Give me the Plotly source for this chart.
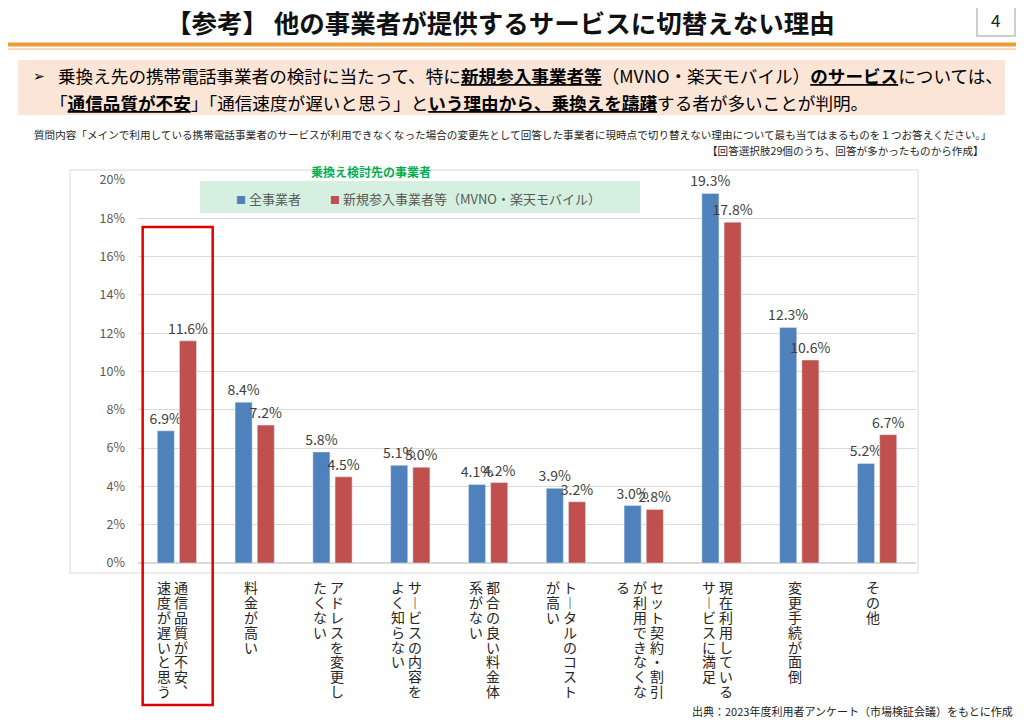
import plotly.graph_objects as go

# ---------------- data ----------------
categories = [
    "通信品質が不安、速度が遅いと思う",
    "料金が高い",
    "アドレスを変更したくない",
    "サービスの内容をよく知らない",
    "都合の良い料金体系がない",
    "トータルのコストが高い",
    "セット契約・割引が利用できなくなる",
    "現在利用しているサービスに満足",
    "変更手続が面倒",
    "その他",
]
series_names = ["全事業者", "新規参入事業者等（MVNO・楽天モバイル）"]
all_operators = [6.9, 8.4, 5.8, 5.1, 4.1, 3.9, 3.0, 19.3, 12.3, 5.2]
new_entrants = [11.6, 7.2, 4.5, 5.0, 4.2, 3.2, 2.8, 17.8, 10.6, 6.7]
y_ticks = [0, 2, 4, 6, 8, 10, 12, 14, 16, 18, 20]
y_tick_labels = [f"{v}%" for v in y_ticks]

title_text = "【参考】 他の事業者が提供するサービスに切替えない理由"
legend_title = "乗換え検討先の事業者"
question_text = ("質問内容「メインで利用している携帯電話事業者のサービスが利用できなくなった場合の変更先として"
                 "回答した事業者に現時点で切り替えない理由について最も当てはまるものを１つお答えください。」")
note_text = "【回答選択肢29個のうち、回答が多かったものから作成】"
source_text = "出典：2023年度利用者アンケート（市場検証会議）をもとに作成"

BLUE = "#4F81BD"
RED = "#C0504D"
JP = "Noto Sans CJK JP"

# ---------------- geometry helpers (reference pixel -> paper) ----------------
OFF = 8                     # page body margin
W, H = 1024 - OFF, 722 - OFF
PL, PR, PT, PB = 138 - OFF, 916 - OFF, 180 - OFF, 563 - OFF


def px(x):
    return (x - OFF - PL) / (PR - PL)


def py(y):
    return (PB - (y - OFF)) / (PB - PT)


fig = go.Figure()
for vals, name, color in [(all_operators, series_names[0], BLUE), (new_entrants, series_names[1], RED)]:
    fig.add_trace(go.Bar(
        x=categories, y=vals, name=name, marker_color=color,
        text=vals, texttemplate="%{y:.1f}%", textposition="outside",
        textangle=0, constraintext="none", cliponaxis=False,
        textfont=dict(size=14, color="#404040", family=JP),
    ))

annotations = []
shapes = []

# vertical (tategaki) category labels
VERT = {"ー": "︱", "、": "︑"}
COL_LEN = 8
PITCH = 14.8
COL_GAP = 17
for cat in categories:
    cols = [cat[i:i + COL_LEN] for i in range(0, len(cat), COL_LEN)]
    n = len(cols)
    for j, col in enumerate(cols):
        xs = -4 + ((n - 1) / 2 - j) * COL_GAP
        for k, ch in enumerate(col):
            annotations.append(dict(
                x=cat, y=0, xref="x", yref="y", text=VERT.get(ch, ch),
                showarrow=False, xanchor="center", yanchor="middle",
                xshift=xs, yshift=-(17 + PITCH / 2 + k * PITCH),
                font=dict(size=14, color="#262626", family=JP),
            ))


def note(x, y, text, size, color="#000000", anchor="left", family=JP):
    annotations.append(dict(x=px(x), y=py(y), xref="paper", yref="paper", text=text, showarrow=False,
                            xanchor=anchor, yanchor="middle", font=dict(size=size, color=color, family=family)))


def rect(x0, y0, x1, y1, **kw):
    shapes.append(dict(type="rect", xref="paper", yref="paper", x0=px(x0), x1=px(x1), y0=py(y1), y1=py(y0), **kw))


# title
note(500, 21, "<b>" + title_text + "</b>", 25.5, "#111111", "center")
# page number
rect(977, 5, 1015, 36, fillcolor="#FFFFFF", line=dict(color="#BFBFBF", width=1.5))
note(996, 20, "4", 17, "#222222", "center")
# orange rule
shapes.append(dict(type="line", xref="paper", yref="paper", x0=px(0), x1=px(1024), y0=py(44.5), y1=py(44.5),
                   line=dict(color="#EE9A3A", width=4)))
shapes.append(dict(type="line", xref="paper", yref="paper", x0=px(0), x1=px(1024), y0=py(49), y1=py(49),
                   line=dict(color="#F8CFA5", width=1.5)))
# bullet box
rect(18, 60, 1005, 115, fillcolor="#FBE5D6", line=dict(width=0), layer="below")
note(31, 76, "➢", 14, family="DejaVu Sans")
line1 = ("乗換え先の携帯電話事業者の検討に当たって、特に<b><u>新規参入事業者等</u></b>（MVNO・楽天モバイル）"
         "<b><u>のサービス</u></b>については、")
line2 = ("「<b><u>通信品質が不安</u></b>」「通信速度が遅いと思う」と<b><u>いう理由から、乗換えを躊躇</u></b>"
         "する者が多いことが判明。")
note(56, 76, line1, 17.6)
note(48, 102, line2, 17.6)
# question + note
note(32, 135, question_text, 10.6, "#262626")
note(986, 151, note_text, 10.6, "#262626", "right")
# chart border
rect(70, 170, 918, 573, line=dict(color="#D9D9D9", width=1), layer="below")
# legend background + title + entries
rect(200, 181, 640, 213, fillcolor="#D5F0E0", line=dict(width=0), layer="above")
note(371, 172, "<b>" + legend_title + "</b>", 12, "#00B050", "center")
note(234, 198, f"<span style='color:{BLUE};font-size:10px'>■</span> " + series_names[0], 13, "#595959")
note(328, 198, f"<span style='color:{RED};font-size:10px'>■</span> " + series_names[1], 13, "#595959")
# highlight box
shapes.append(dict(type="rect", xref="x", yref="paper", x0=-0.44, x1=0.46, y0=py(705), y1=py(227),
                   line=dict(color="#E00000", width=2.5)))
# source
note(1015, 711, source_text, 11, "#222222", "right")

fig.update_layout(
    width=W, height=H,
    margin=dict(l=PL, r=W - PR, t=PT, b=H - PB, pad=0),
    paper_bgcolor="#FFFFFF", plot_bgcolor="#FFFFFF",
    barmode="group", bargap=0.43, bargroupgap=0.23,
    showlegend=False,
    font=dict(family=JP),
    xaxis=dict(showticklabels=False, showgrid=False, zeroline=False, showline=False, ticks=""),
    yaxis=dict(range=[0, 20], tickvals=y_ticks, ticktext=y_tick_labels, showgrid=True, gridcolor="#D9D9D9",
               gridwidth=1, zeroline=True, zerolinecolor="#D9D9D9", showline=False, ticks="",
               ticklabelstandoff=12, tickfont=dict(size=12.5, color="#595959", family=JP)),
    annotations=annotations,
    shapes=shapes,
)

fig.write_html("out.html")
